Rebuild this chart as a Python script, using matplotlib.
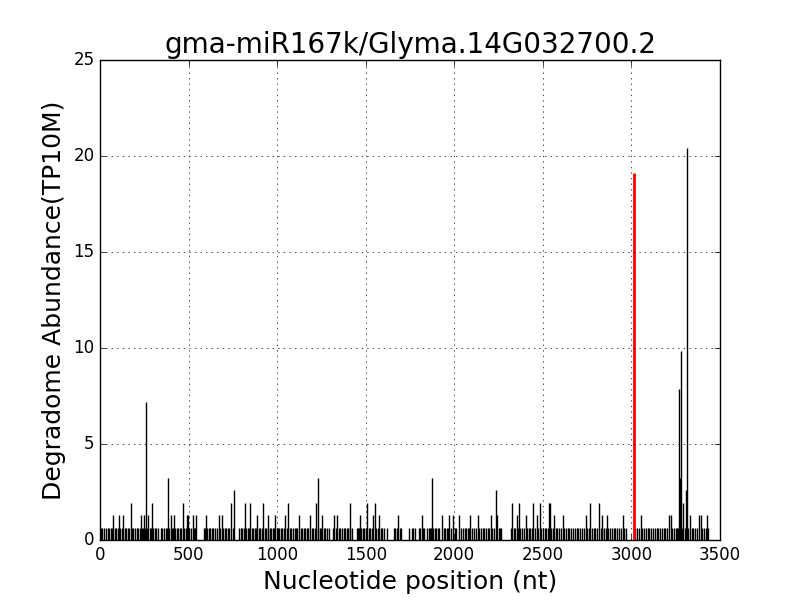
import numpy as np
import matplotlib
matplotlib.use('Agg')
import matplotlib.pyplot as plt

title = 'gma-miR167k/Glyma.14G032700.2'

# positions with a single read (~0.65 TP10M)
base_pos = [3, 14, 24, 33, 45, 52, 63, 70, 82, 93, 101, 115, 122, 140, 148, 157, 166, 180, 188,
            197, 208, 216, 226, 238, 244, 256, 266, 281, 290, 302, 311, 318, 330, 342, 350, 361,
            370, 378, 390, 404, 411, 426, 433, 441, 452, 460, 476, 484, 503, 512, 530, 538,
            586, 594, 605, 613, 622, 633, 640, 652, 661, 678, 694, 703, 712, 720, 731, 750,
            785, 796, 804, 812, 826, 834, 842, 856, 865, 873, 881, 896, 905, 913, 930, 938, 946,
            958, 966, 975, 983, 997, 1005, 1013, 1022, 1030, 1038, 1055, 1072, 1080, 1090, 1098,
            1106, 1114, 1132, 1140, 1150, 1160, 1168, 1176, 1194, 1202, 1212, 1228, 1240, 1248,
            1262, 1270, 1280, 1290, 1318, 1330, 1348, 1356, 1366, 1376, 1384, 1392, 1402, 1410,
            1420, 1448, 1456, 1462, 1476, 1484, 1492, 1500, 1517, 1525, 1533, 1560, 1568, 1585,
            1594, 1606, 1618, 1660, 1668, 1676, 1692, 1700, 1745, 1760, 1768, 1776, 1800, 1808,
            1822, 1830, 1846, 1856, 1864, 1871, 1882, 1890, 1898, 1906, 1914, 1940, 1950, 1958,
            1966, 1984, 2003, 2012, 2040, 2050, 2058, 2068, 2076, 2084, 2100, 2110, 2120, 2140,
            2150, 2160, 2170, 2180, 2190, 2198, 2214, 2222, 2250, 2258, 2266, 2322, 2336, 2345,
            2360, 2372, 2382, 2392, 2410, 2420, 2428, 2438, 2456, 2474, 2492, 2500, 2510, 2520,
            2528, 2548, 2555, 2572, 2580, 2590, 2600, 2620, 2630, 2640, 2650, 2660, 2670, 2680,
            2690, 2700, 2712, 2722, 2732, 2750, 2760, 2776, 2786, 2796, 2806, 2826, 2836, 2846,
            2855, 2870, 2880, 2890, 2900, 2910, 2920, 2930, 2940, 2960, 2970, 3022, 3030, 3040,
            3062, 3072, 3082, 3092, 3102, 3112, 3122, 3132, 3142, 3152, 3162, 3172, 3182, 3192,
            3200, 3230, 3240, 3250, 3258, 3265, 3285, 3300, 3320, 3340, 3350, 3360, 3372, 3400,
            3410, 3420, 3435]
base_val = 0.65

peak_pos = [75, 109, 132, 173, 230, 250, 260, 273, 295, 382, 399, 420, 470, 491, 497, 523, 544,
            600, 670, 687, 741, 758, 820, 849, 888, 922, 950, 990, 1046, 1063, 1125, 1187, 1221,
            1232, 1255, 1323, 1340, 1413, 1469, 1509, 1543, 1554, 1577, 1684, 1816, 1876, 1929,
            1972, 1995, 2025, 2091, 2132, 2206, 2234, 2241, 2328, 2354, 2365, 2403, 2446, 2465,
            2484, 2535, 2540, 2563, 2612, 2743, 2768, 2817, 2832, 2862, 2950, 3052, 3210, 3221,
            3269, 3276, 3280, 3293, 3307, 3315, 3328, 3383, 3393, 3428]
peak_val = [1.3, 1.3, 1.3, 1.95, 1.3, 1.3, 7.2, 1.3, 1.95, 3.25, 1.3, 1.3, 1.95, 1.3, 1.3, 1.3, 1.3,
            1.3, 1.3, 1.3, 1.95, 2.6, 1.95, 1.95, 1.3, 1.95, 1.3, 1.3, 1.3, 1.95, 1.3, 1.3, 1.95,
            3.25, 1.3, 1.3, 1.3, 1.95, 1.3, 1.95, 1.3, 1.95, 1.3, 1.3, 1.3, 3.25, 1.3,
            1.3, 1.3, 1.3, 1.3, 1.3, 1.3, 2.6, 1.3, 1.95, 1.3, 1.95, 1.3, 1.95, 1.3,
            1.95, 1.95, 1.95, 1.3, 1.3, 1.3, 1.95, 1.95, 1.3, 1.3, 1.3, 1.3, 1.3, 1.3,
            7.85, 3.25, 9.85, 1.95, 2.6, 20.4, 1.3, 1.3, 1.3, 1.3]

# miRNA cleavage site
site_pos = 3013
site_val = 19.1

plt.style.use('classic')
fig, ax = plt.subplots(figsize=(8, 6), dpi=100)
fig.patch.set_facecolor('white')
fig.subplots_adjust(left=0.125, right=0.9, bottom=0.1, top=0.9)

ax.vlines(base_pos, 0, base_val, color='black', linewidth=1)
ax.vlines(peak_pos, 0, peak_val, color='black', linewidth=1)
ax.vlines(site_pos, 0, site_val, color='red', linewidth=2)

ax.set_xlim(0, 3500)
ax.set_ylim(0, 25)
ax.set_xticks(np.arange(0, 3501, 500))
ax.set_yticks(np.arange(0, 26, 5))
ax.grid(True, linestyle=':', color='black', linewidth=0.5)
ax.tick_params(labelsize=12, direction='in')

ax.set_title(title, fontsize=20)
ax.set_xlabel('Nucleotide position (nt)', fontsize=18)
ax.set_ylabel('Degradome Abundance(TP10M)', fontsize=18)

fig.savefig('out.png', dpi=100, facecolor='white')
